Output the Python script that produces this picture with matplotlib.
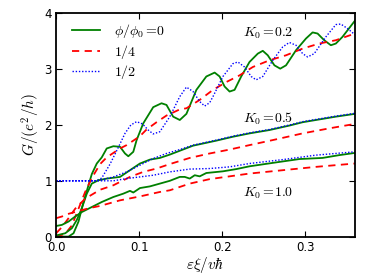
import matplotlib
matplotlib.use("Agg")
import matplotlib.pyplot as plt

plt.rcParams['mathtext.fontset'] = 'cm'
plt.rcParams['font.family'] = ['DejaVu Sans']

# K0 = 0.2
x_g02 = [0, 0.015, 0.021, 0.027, 0.033, 0.039, 0.043, 0.049, 0.055, 0.061, 0.069, 0.077, 0.083, 0.087,
         0.093, 0.097, 0.105, 0.117, 0.127, 0.133, 0.141, 0.149, 0.157, 0.169, 0.181, 0.191, 0.197, 0.203,
         0.209, 0.215, 0.223, 0.233, 0.243, 0.249, 0.255, 0.263, 0.270, 0.277, 0.289, 0.301, 0.309, 0.315,
         0.323, 0.331, 0.337, 0.345, 0.36]
y_g02 = [0, 0, 0.06, 0.27, 0.62, 0.92, 1.12, 1.31, 1.42, 1.58, 1.62, 1.61, 1.49, 1.44,
         1.52, 1.73, 2.03, 2.32, 2.39, 2.36, 2.15, 2.09, 2.2, 2.63, 2.87, 2.94, 2.87, 2.69,
         2.6, 2.63, 2.87, 3.13, 3.28, 3.33, 3.25, 3.07, 3.01, 3.07, 3.34, 3.55, 3.66, 3.64,
         3.52, 3.43, 3.46, 3.58, 3.87]
x_r02 = [0, 0.011, 0.019, 0.027, 0.035, 0.043, 0.053, 0.061, 0.069, 0.077, 0.085, 0.093, 0.101, 0.109,
         0.121, 0.133, 0.149, 0.157, 0.173, 0.189, 0.205, 0.221, 0.237, 0.257, 0.277, 0.297, 0.317,
         0.337, 0.36]
y_r02 = [0.0, 0.05, 0.2, 0.5, 0.8, 1.05, 1.3, 1.42, 1.5, 1.58, 1.64, 1.72, 1.8, 1.92,
         2.05, 2.17, 2.28, 2.3, 2.45, 2.63, 2.77, 2.89, 3.04, 3.16, 3.25, 3.37, 3.46,
         3.52, 3.64]
x_b02 = [0, 0.048, 0.055, 0.065, 0.075, 0.083, 0.09, 0.097, 0.104, 0.111, 0.117, 0.125, 0.137, 0.149,
         0.157, 0.165, 0.173, 0.179, 0.185, 0.189, 0.201, 0.213, 0.219, 0.227, 0.235, 0.241, 0.249,
         0.261, 0.273, 0.281, 0.289, 0.297, 0.303, 0.311, 0.325, 0.337, 0.343, 0.351, 0.36]
y_b02 = [1.0, 1.0, 1.05, 1.3, 1.6, 1.85, 2.0, 2.06, 2.02, 1.91, 1.84, 1.88, 2.15, 2.51,
         2.68, 2.6, 2.42, 2.34, 2.40, 2.51, 2.87, 3.10, 3.13, 3.04, 2.87, 2.81, 2.87,
         3.16, 3.40, 3.48, 3.43, 3.28, 3.22, 3.28, 3.58, 3.80, 3.81, 3.73, 3.62]

# K0 = 0.5
x_g05 = [0, 0.011, 0.019, 0.025, 0.031, 0.037, 0.043, 0.051, 0.061, 0.077, 0.089, 0.101, 0.113, 0.125,
         0.137, 0.165, 0.193, 0.213, 0.233, 0.257, 0.281, 0.297, 0.337, 0.36]
y_g05 = [0.02, 0.06, 0.15, 0.30, 0.51, 0.77, 0.95, 1.01, 1.04, 1.07, 1.19, 1.31, 1.38, 1.41,
         1.47, 1.63, 1.72, 1.79, 1.85, 1.91, 1.99, 2.05, 2.15, 2.2]
x_r05 = [0, 0.007, 0.015, 0.023, 0.035, 0.053, 0.069, 0.089, 0.105, 0.121, 0.137, 0.161, 0.185, 0.209,
         0.233, 0.261, 0.297, 0.329, 0.36]
y_r05 = [0.06, 0.17, 0.33, 0.5, 0.68, 0.84, 0.92, 1.07, 1.16, 1.22, 1.30, 1.41, 1.49, 1.56,
         1.64, 1.73, 1.85, 1.94, 2.02]
x_b05 = [0, 0.048, 0.053, 0.069, 0.085, 0.101, 0.117, 0.133, 0.149, 0.165, 0.193, 0.213, 0.233, 0.257,
         0.281, 0.297, 0.337, 0.36]
y_b05 = [1.0, 1.0, 1.01, 1.07, 1.16, 1.28, 1.40, 1.49, 1.56, 1.64, 1.73, 1.80, 1.86, 1.92,
         2.0, 2.06, 2.16, 2.21]

# K0 = 1.0
x_g10 = [0, 0.007, 0.015, 0.023, 0.031, 0.043, 0.055, 0.069, 0.081, 0.089, 0.093, 0.097, 0.101, 0.113,
         0.125, 0.137, 0.149, 0.155, 0.161, 0.167, 0.173, 0.181, 0.201, 0.217, 0.233, 0.265, 0.293,
         0.321, 0.341, 0.36]
y_g10 = [0.19, 0.21, 0.27, 0.36, 0.44, 0.53, 0.62, 0.71, 0.77, 0.82, 0.79, 0.83, 0.87, 0.90,
         0.95, 1.0, 1.07, 1.07, 1.04, 1.10, 1.08, 1.14, 1.17, 1.21, 1.26, 1.33, 1.39,
         1.41, 1.46, 1.50]
x_r10 = [0, 0.007, 0.013, 0.025, 0.04, 0.053, 0.077, 0.101, 0.125, 0.137, 0.161, 0.185, 0.209, 0.233,
         0.273, 0.313, 0.36]
y_r10 = [0.33, 0.36, 0.40, 0.45, 0.51, 0.55, 0.65, 0.72, 0.80, 0.83, 0.95, 1.03, 1.08, 1.13,
         1.19, 1.25, 1.31]
x_b10 = [0, 0.048, 0.069, 0.085, 0.101, 0.117, 0.137, 0.161, 0.185, 0.209, 0.233, 0.273, 0.313, 0.36]
y_b10 = [1.0, 1.0, 1.0, 1.04, 1.07, 1.1, 1.16, 1.21, 1.22, 1.25, 1.31, 1.38, 1.46, 1.52]

legend_labels = [r'$\phi/\phi_0 =\!0$', r'$1/4$', r'$1/2$']
k_labels = [r'$K_0 =\!0.2$', r'$K_0 =\!0.5$', r'$K_0 =\!1.0$']
k_label_y = [3.65, 2.12, 0.78]
k_label_x = 0.255

fig = plt.figure(figsize=(3.74, 2.80), dpi=100)
ax = fig.add_axes([0.150, 0.155, 0.799, 0.797])

gs = dict(color='#008000', lw=1.3, ls='-')
rs = dict(color='#ff0000', lw=1.3, ls=(0, (4, 3)))
bs = dict(color='#0000ff', lw=1.0, ls=(0, (1, 1.3)))

ax.plot(x_g02, y_g02, label=legend_labels[0], **gs)
ax.plot(x_r02, y_r02, label=legend_labels[1], **rs)
ax.plot(x_b02, y_b02, label=legend_labels[2], **bs)
ax.plot(x_g05, y_g05, **gs)
ax.plot(x_r05, y_r05, **rs)
ax.plot(x_b05, y_b05, **bs)
ax.plot(x_g10, y_g10, **gs)
ax.plot(x_r10, y_r10, **rs)
ax.plot(x_b10, y_b10, **bs)

for lab, yy in zip(k_labels, k_label_y):
    ax.text(k_label_x, yy, lab, ha='center', va='center', fontsize=10)

ax.set_xlim(0, 0.36)
ax.set_ylim(0, 4)
ax.set_xticks([0.0, 0.1, 0.2, 0.3])
ax.set_xticklabels(['0.0', '0.1', '0.2', '0.3'])
ax.set_yticks([0, 1, 2, 3, 4])
ax.set_yticklabels(['0', '1', '2', '3', '4'])
ax.tick_params(direction='in', top=True, right=True, labelsize=8.5, length=4, width=0.8, pad=3)
for s in ax.spines.values():
    s.set_linewidth(1.3)

ax.set_xlabel(r'$\varepsilon\xi/v\hbar$', fontsize=11, labelpad=1)
ax.set_ylabel(r'$G/(e^2/h)$', fontsize=11, labelpad=2)

ax.legend(loc='upper left', frameon=False, fontsize=10, handlelength=2.0,
          bbox_to_anchor=(0.045, 0.975), borderaxespad=0.0, borderpad=0.2,
          labelspacing=0.2, handletextpad=1.0)

fig.savefig('out.png', dpi=100)
